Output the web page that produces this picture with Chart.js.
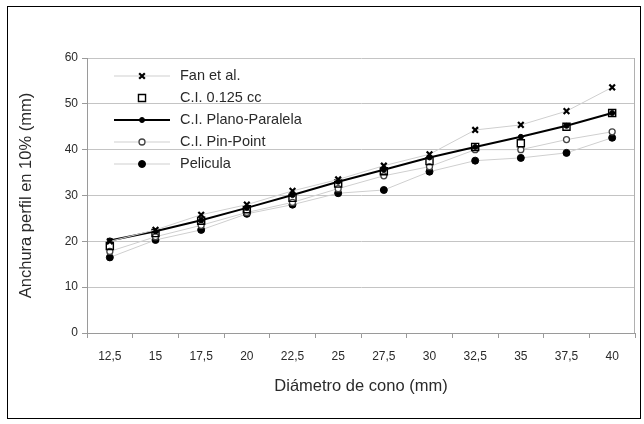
<!DOCTYPE html>
<html><head><meta charset="utf-8">
<script src="https://cdn.jsdelivr.net/npm/chart.js@4.4.1/dist/chart.umd.min.js"></script>
<style>html,body{margin:0;padding:0;background:#fff}#wrap{width:644px;height:424px;position:relative}</style>
</head><body><div id="wrap"><canvas id="c" width="644" height="424"></canvas></div>
<script>
const categories = ["12,5","15","17,5","20","22,5","25","27,5","30","32,5","35","37,5","40"];
const yTicks = [0,10,20,30,40,50,60];
const fanEtAl    = [20.0,22.5,25.8,28.0,31.0,33.5,36.5,39.0,44.3,45.4,48.4,53.6];
const ci0125     = [19.0,21.8,24.5,27.0,29.5,32.6,35.3,37.5,40.6,41.4,45.0,48.0];
const planoPar   = [20.2,22.2,24.6,27.3,30.1,33.0,35.6,38.3,40.6,42.8,45.2,48.0];
const pinPoint   = [17.8,21.0,23.5,26.3,28.5,31.5,34.3,36.3,40.0,40.0,42.2,43.9];
const pelicula   = [16.5,20.3,22.5,26.0,28.0,30.5,31.2,35.2,37.6,38.2,39.3,42.6];
const labels = ["Fan et al.","C.I. 0.125 cc","C.I. Plano-Paralela","C.I. Pin-Point","Pelicula"];

const txt = '#2a2a2a';
const fontFam = '"Liberation Sans", Arial, sans-serif';

const legendPlugin = {
  id:'customLegend',
  afterDraw(chart){
    const ctx = chart.ctx;
    ctx.save();
    const x0 = 114, x1 = 170, tx = 180;
    const ys = [76, 98, 120, 142, 164];
    chart.data.datasets.forEach((ds,i)=>{
      const y = ys[i];
      if (ds.showLine !== false) {
        ctx.strokeStyle = ds.borderColor; ctx.lineWidth = ds.borderWidth;
        ctx.beginPath(); ctx.moveTo(x0,y); ctx.lineTo(x1,y); ctx.stroke();
      }
      const cx = (x0+x1)/2;
      ctx.fillStyle = ds.pointBackgroundColor; ctx.strokeStyle = ds.pointBorderColor;
      ctx.lineWidth = ds.pointBorderWidth;
      Chart.helpers.drawPoint(ctx, {pointStyle: ds.pointStyle, radius: ds.pointRadius, borderWidth: ds.pointBorderWidth, rotation:0}, cx, y);
      ctx.fillStyle = txt; ctx.font = '14.5px ' + fontFam; ctx.textBaseline='middle'; ctx.textAlign='left';
      ctx.fillText(ds.label, tx, y);
    });
    ctx.strokeStyle = '#000'; ctx.lineWidth = 1;
    ctx.strokeRect(7.5, 6.5, 633, 412);
    ctx.restore();
  }
};

const mk = (label, data, o) => Object.assign({label, data, borderColor:'#cfcfcf', borderWidth:1, pointBorderColor:'#000', pointBackgroundColor:'#000', pointBorderWidth:1, pointRadius:3, pointHoverRadius:3, tension:0}, o);

new Chart(document.getElementById('c'), {
  type:'line',
  data:{ labels: categories, datasets:[
    mk(labels[0], fanEtAl, {pointStyle:'crossRot', pointRadius:4, pointBorderWidth:2.2}),
    mk(labels[1], ci0125, {pointStyle:'rect', pointRadius:5, pointBackgroundColor:'rgba(255,255,255,0)', pointBorderWidth:1.4, showLine:false}),
    mk(labels[2], planoPar, {pointStyle:'circle', pointRadius:2.5, borderColor:'#000', borderWidth:2}),
    mk(labels[3], pinPoint, {pointStyle:'circle', pointRadius:3, pointBackgroundColor:'#fff', pointBorderColor:'#444', pointBorderWidth:1.3}),
    mk(labels[4], pelicula, {pointStyle:'circle', pointRadius:3.5})
  ]},
  options:{
    responsive:false, animation:false, devicePixelRatio:1,
    layout:{padding:{left:0,right:9,top:58,bottom:0}},
    plugins:{legend:{display:false}, tooltip:{enabled:false}},
    scales:{
      x:{
        offset:true,
        grid:{offset:true, drawOnChartArea:false, color:'#9a9a9a', tickLength:5},
        border:{color:'#9a9a9a', width:1},
        ticks:{color:txt, font:{size:12, family:fontFam}, padding:11, maxRotation:0, autoSkip:false},
        title:{display:true, text:'Diámetro de cono (mm)', color:txt, font:{size:16.5, family:fontFam}, padding:{top:4,bottom:28}},
        afterFit(s){ s.height = 91; }
      },
      y:{
        min:0, max:60,
        afterBuildTicks(s){ s.ticks = yTicks.map(v=>({value:v})); },
        grid:{color:'#c4c4c4', tickLength:5, tickColor:'#9a9a9a'},
        border:{color:'#9a9a9a', width:1},
        ticks:{color:txt, font:{size:12, family:fontFam}, padding:4},
        title:{display:true, text:'Anchura perfil en 10% (mm)', color:txt, font:{size:16.5, family:fontFam}, padding:{top:17,bottom:0}},
        afterFit(s){ s.width = 87; }
      }
    }
  },
  plugins:[legendPlugin, {
    id:'rightBorder',
    afterDatasetsDraw(chart){
      const a = chart.chartArea, ctx = chart.ctx;
      ctx.save(); ctx.strokeStyle='#b0b0b0'; ctx.lineWidth=1;
      ctx.beginPath(); ctx.moveTo(Math.round(a.right)-0.5, a.top); ctx.lineTo(Math.round(a.right)-0.5, a.bottom); ctx.stroke();
      ctx.restore();
    }
  }]
});
</script></body></html>
